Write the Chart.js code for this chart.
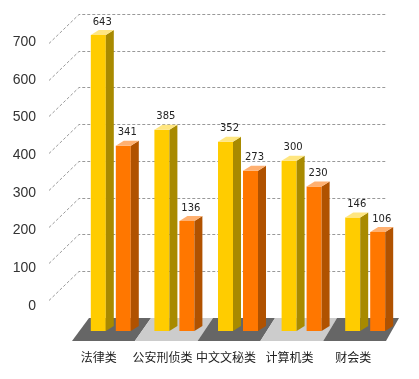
<!doctype html>
<html>

<head>
    <meta charset="utf-8">
    <title>3D bars</title>
    <script src="https://cdn.jsdelivr.net/npm/chart.js"></script>
    <style>
        body {
            margin: 0;
            background-color: #fff;
        }

        #wrap {
            width: 419px;
            height: 379px;
        }
    </style>
</head>

<body>
    <div id="wrap"><canvas id="chart"></canvas></div>
    <script>
        const categories = ['法律类', '公安刑侦类', '中文文秘类', '计算机类', '财会类']
        const seriesA = [643, 385, 352, 300, 146]
        const seriesB = [341, 136, 273, 230, 106]
        const yTicks = [0, 100, 200, 300, 400, 500, 600, 700]

        const dx = 8, dy = -5
        const faces = [
            { front: '#ffcc00', side: '#a88a00', top: '#ffe680' },
            { front: '#ff7700', side: '#b05200', top: '#ffb070' }
        ]

        function poly(ctx, pts, color) {
            ctx.fillStyle = color
            ctx.beginPath()
            ctx.moveTo(pts[0][0], pts[0][1])
            pts.slice(1).forEach(p => ctx.lineTo(p[0], p[1]))
            ctx.closePath()
            ctx.fill()
        }

        const threeD = {
            id: 'threeD',
            beforeDatasetsDraw(chart) {
                const ctx = chart.ctx, area = chart.chartArea, y = chart.scales.y
                const n = categories.length
                // floor, one stripe per category
                const fl = area.left - 7, fr = area.right - 11, bl = area.left + 10, br = area.right + 2
                const fy = area.bottom + 10, by = area.bottom - 13
                for (let i = 0; i < n; i++) {
                    poly(ctx, [
                        [fl + (fr - fl) * i / n, fy],
                        [fl + (fr - fl) * (i + 1) / n, fy],
                        [bl + (br - bl) * (i + 1) / n, by],
                        [bl + (br - bl) * i / n, by]
                    ], i % 2 ? '#cccccc' : '#666666')
                }
                // dashed wall lines
                ctx.save()
                ctx.strokeStyle = '#999999'
                ctx.lineWidth = 1
                ctx.setLineDash([3, 2])
                yTicks.forEach(v => {
                    const py = Math.round(y.getPixelForValue(v)) + 0.5
                    ctx.beginPath()
                    ctx.moveTo(area.left - 30, py + 29)
                    ctx.lineTo(area.left, py)
                    ctx.lineTo(area.right - 11, py)
                    ctx.stroke()
                })
                ctx.restore()
            },
            afterDatasetsDraw(chart) {
                const ctx = chart.ctx
                chart.data.datasets.forEach((ds, di) => {
                    chart.getDatasetMeta(di).data.forEach((bar, i) => {
                        const l = bar.x - bar.width / 2, r = bar.x + bar.width / 2
                        const t = bar.y, b = bar.base
                        poly(ctx, [[r, t], [r + dx, t + dy], [r + dx, b + dy], [r, b]], faces[di].side)
                        poly(ctx, [[l, t], [l + dx, t + dy], [r + dx, t + dy], [r, t]], faces[di].top)
                        ctx.fillStyle = '#222'
                        ctx.font = '10px "DejaVu Sans"'
                        ctx.textAlign = 'center'
                        ctx.textBaseline = 'middle'
                        ctx.fillText(ds.data[i], bar.x + dx / 2, t - 13)
                    })
                })
            }
        }

        const myChart = new Chart(
            document.getElementById('chart'),
            {
                type: 'bar',
                data: {
                    labels: categories,
                    datasets: [
                        { label: 'A', data: seriesA, backgroundColor: faces[0].front, yAxisID: 'y', base: -163.5 },
                        { label: 'B', data: seriesB, backgroundColor: faces[1].front, yAxisID: 'y', base: -163.5 }
                    ]
                },
                options: {
                    responsive: true,
                    maintainAspectRatio: false,
                    animation: false,
                    categoryPercentage: 0.786,
                    barPercentage: 0.6,
                    layout: { padding: { top: 14, right: 22, bottom: 0, left: 0 } },
                    scales: {
                        x: {
                            grid: { display: false },
                            border: { display: false },
                            ticks: {
                                color: '#222',
                                font: { family: '"Noto Sans CJK SC"', size: 12 },
                                padding: 11,
                                labelOffset: -12,
                                maxRotation: 0,
                                autoSkip: false
                            },
                            afterFit: s => { s.height = 48 }
                        },
                        y: {
                            display: false,
                            min: -163.5,
                            max: 700
                        },
                        yl: {
                            position: 'left',
                            min: -66.3,
                            max: 774.3,
                            grid: { display: false },
                            border: { display: false },
                            afterBuildTicks: s => { s.ticks = yTicks.map(v => ({ value: v })) },
                            ticks: {
                                color: '#333',
                                font: { family: '"Liberation Sans"', size: 14 },
                                padding: 35
                            },
                            afterFit: s => {
                                s.width = 79
                                s.paddingTop = 0
                                s.paddingBottom = 0
                            }
                        }
                    },
                    plugins: {
                        legend: { display: false },
                        tooltip: { enabled: false }
                    }
                },
                plugins: [threeD]
            }
        );
    </script>
</body>

</html>
